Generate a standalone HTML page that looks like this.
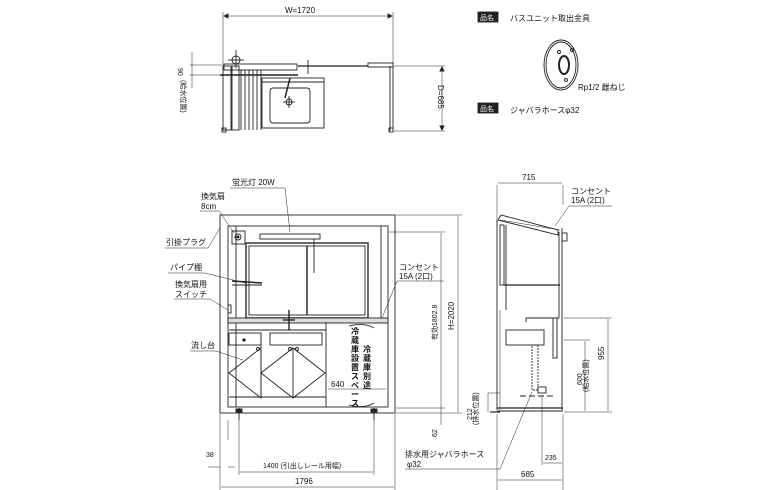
<!DOCTYPE html>
<html><head><meta charset="utf-8"><style>
html,body{margin:0;padding:0;background:#fff;}
svg{display:block;}
text{font-family:"Liberation Sans","Noto Sans CJK JP",sans-serif;fill:#111;}
.s{font-size:8px;}
.t{font-size:7px;}
</style></head><body>
<svg width="780" height="490" viewBox="0 0 780 490" xmlns="http://www.w3.org/2000/svg" stroke="#222" fill="none" stroke-width="0.9">
<!-- ===== TOP PLAN ===== -->
<line x1="223" y1="12" x2="223" y2="66" stroke-width="0.5"/>
<line x1="393" y1="12" x2="393" y2="66" stroke-width="0.5"/>
<line x1="224" y1="16" x2="392" y2="16" stroke-width="0.5"/>
<path d="M224 16l4 -2v4zM392 16l-4 -2v4z" fill="#222"/>
<text x="285" y="13" class="s" stroke="none">W=1720</text>
<rect x="223" y="66" width="8" height="64"/>
<rect x="232" y="66" width="7" height="64"/>
<line x1="245" y1="70" x2="245" y2="130"/><line x1="249" y1="70" x2="249" y2="130"/><line x1="253" y1="70" x2="253" y2="130"/><line x1="257" y1="70" x2="257" y2="130"/><line x1="261" y1="70" x2="261" y2="130"/><line x1="241" y1="70" x2="241" y2="130"/>
<rect x="224" y="64" width="73" height="6"/>
<line x1="220" y1="75" x2="298" y2="75" stroke-width="1.5"/>
<line x1="298" y1="66" x2="368" y2="66" stroke-width="1.2"/>
<rect x="368" y="63" width="25" height="4"/>
<line x1="390" y1="66" x2="390" y2="131"/><line x1="393" y1="66" x2="393" y2="131"/>
<rect x="222" y="128" width="4" height="4"/><rect x="389" y="128" width="4" height="4"/>
<rect x="262" y="78" width="62" height="50"/>
<line x1="262" y1="82" x2="324" y2="82"/>
<rect x="270" y="88" width="40" height="35" rx="3"/>
<line x1="285" y1="98" x2="290" y2="78" stroke-width="1.5"/>
<circle cx="289" cy="102" r="3"/>
<line x1="283" y1="102" x2="295" y2="102"/><line x1="289" y1="96" x2="289" y2="108"/>
<circle cx="236" cy="60" r="4"/><line x1="228" y1="60" x2="244" y2="60"/><line x1="236" y1="50" x2="236" y2="68"/>
<line x1="308" y1="60" x2="308" y2="74"/><line x1="302" y1="66" x2="314" y2="66"/>
<line x1="190" y1="65" x2="222" y2="65" stroke-width="0.5"/>
<line x1="190" y1="75" x2="222" y2="75" stroke-width="0.5"/>
<line x1="192" y1="52" x2="192" y2="88" stroke-width="0.5"/>
<text transform="translate(178,68) rotate(90)" class="t" stroke="none">90</text>
<text transform="translate(181,80) rotate(90)" class="t" stroke="none">(給水位置)</text>
<line x1="394" y1="66" x2="445" y2="66" stroke-width="0.5"/>
<line x1="394" y1="131" x2="445" y2="131" stroke-width="0.5"/>
<line x1="442" y1="67" x2="442" y2="130" stroke-width="0.5"/>
<path d="M442 67l-2 4h4zM442 130l-2 -4h4z" fill="#222"/>
<text transform="translate(438,85) rotate(90)" class="s" stroke="none">D=685</text>

<!-- legend -->
<rect x="478" y="12" width="20" height="10" fill="#222"/>
<text x="480" y="20" class="t" stroke="none" style="fill:#fff">品名</text>
<text x="510" y="21" class="s" stroke="none">バスユニット取出金具</text>
<ellipse cx="561" cy="65" rx="17" ry="25"/><ellipse cx="561" cy="65" rx="15" ry="23"/>
<ellipse cx="564" cy="65" rx="5" ry="9" stroke-width="2"/>
<circle cx="559" cy="52" r="1.5"/><circle cx="572" cy="50" r="1.5"/><circle cx="566" cy="80" r="1.5"/>
<text x="578" y="90" class="s" stroke="none">Rp1/2 雌ねじ</text>
<rect x="478" y="103" width="20" height="10" fill="#222"/>
<text x="480" y="111" class="t" stroke="none" style="fill:#fff">品名</text>
<text x="510" y="113" class="s" stroke="none">ジャバラホースφ32</text>

<!-- ===== FRONT VIEW ===== -->
<rect x="220" y="215" width="175" height="198"/>
<rect x="228" y="226" width="160" height="181"/>
<line x1="236" y1="226" x2="236" y2="407"/>
<line x1="381" y1="226" x2="381" y2="318"/>
<rect x="232" y="231" width="13" height="13"/><circle cx="238" cy="237" r="3"/><circle cx="238" cy="237" r="1" fill="#222"/>
<rect x="260" y="234" width="60" height="5"/>
<line x1="314" y1="239" x2="314" y2="273"/>
<rect x="246" y="243" width="122" height="75" stroke-width="1.6" stroke="#444"/>
<rect x="249" y="246" width="116" height="69"/>
<line x1="307" y1="246" x2="307" y2="315" stroke-width="1.4"/>
<rect x="228" y="318" width="160" height="5" fill="#ddd"/>
<line x1="289" y1="310" x2="289" y2="330" stroke-width="1.4"/><line x1="283" y1="320" x2="295" y2="320" stroke-width="1.4"/>
<line x1="229" y1="330" x2="326" y2="330"/>
<rect x="229" y="333" width="32" height="12"/><circle cx="244" cy="340" r="1.2" fill="#222"/>
<rect x="270" y="333" width="52" height="12"/>
<line x1="261" y1="333" x2="261" y2="397"/>
<line x1="326" y1="322" x2="326" y2="407"/>
<line x1="229" y1="397" x2="326" y2="397"/>
<path d="M229 373l32 -25v50zM261 373l32 -25l32 25l-32 25z"/>
<line x1="293" y1="348" x2="293" y2="398"/>
<circle cx="258" cy="349" r="1.5"/><circle cx="290" cy="349" r="1.5"/><circle cx="297" cy="349" r="1.5"/>
<path d="M349 326q15 -4 25 2M349 405q15 4 25 -2"/>
<line x1="328" y1="389" x2="386" y2="389" stroke-width="0.5"/>
<text x="331" y="387" class="s" stroke="none">640</text>
<text class="s" stroke="none" text-anchor="middle" font-weight="bold"><tspan x="355" y="334">冷</tspan><tspan x="355" dy="9">蔵</tspan><tspan x="355" dy="9">庫</tspan><tspan x="355" dy="9">設</tspan><tspan x="355" dy="9">置</tspan><tspan x="355" dy="9">ス</tspan><tspan x="355" dy="9">ペ</tspan><tspan x="355" dy="9">ー</tspan><tspan x="355" dy="9">ス</tspan></text>
<text class="s" stroke="none" text-anchor="middle" font-weight="bold"><tspan x="367" y="352">冷</tspan><tspan x="367" dy="9">蔵</tspan><tspan x="367" dy="9">庫</tspan><tspan x="367" dy="9">別</tspan><tspan x="367" dy="9">途</tspan></text>
<line x1="232" y1="281" x2="262" y2="283" stroke-width="1.5"/><line x1="232" y1="285" x2="262" y2="285"/>
<rect x="228" y="305" width="3" height="8"/>
<line x1="239" y1="408" x2="239" y2="420"/><line x1="374" y1="408" x2="374" y2="420"/>
<rect x="236" y="409" width="6" height="3" fill="#222"/><rect x="371" y="409" width="6" height="3" fill="#222"/>
<!-- labels front -->
<text x="232" y="185" class="s" stroke="none">蛍光灯 20W</text>
<line x1="230" y1="188" x2="285" y2="188" stroke-width="0.5"/><line x1="285" y1="188" x2="290" y2="232" stroke-width="0.5"/>
<text x="201" y="199" class="s" stroke="none">換気扇</text>
<text x="201" y="209" class="s" stroke="none">8cm</text>
<line x1="200" y1="211" x2="219" y2="211" stroke-width="0.5"/><line x1="219" y1="211" x2="234" y2="233" stroke-width="0.5"/>
<text x="166" y="245" class="s" stroke="none">引掛プラグ</text>
<line x1="165" y1="248" x2="208" y2="248" stroke-width="0.5"/><line x1="208" y1="248" x2="220" y2="228" stroke-width="0.5"/>
<text x="170" y="270" class="s" stroke="none">パイプ棚</text>
<line x1="168" y1="273" x2="205" y2="273" stroke-width="0.5"/><line x1="205" y1="273" x2="245" y2="283" stroke-width="0.5"/>
<text x="175" y="287" class="s" stroke="none">換気扇用</text>
<text x="175" y="297" class="s" stroke="none">スイッチ</text>
<line x1="174" y1="299" x2="210" y2="299" stroke-width="0.5"/><line x1="210" y1="299" x2="228" y2="310" stroke-width="0.5"/>
<text x="191" y="348" class="s" stroke="none">流し台</text>
<line x1="190" y1="351" x2="216" y2="351" stroke-width="0.5"/><line x1="216" y1="351" x2="243" y2="360" stroke-width="0.5"/>
<text x="399" y="270" class="s" stroke="none">コンセント</text>
<text x="399" y="279" class="s" stroke="none">15A (2口)</text>
<line x1="397" y1="281" x2="444" y2="281" stroke-width="0.5"/><line x1="397" y1="281" x2="382" y2="318" stroke-width="0.5"/>
<!-- dims front -->
<line x1="396" y1="215" x2="462" y2="215" stroke-width="0.5"/>
<line x1="389" y1="232" x2="445" y2="232" stroke-width="0.5"/>
<line x1="396" y1="408" x2="445" y2="408" stroke-width="0.5"/>
<line x1="396" y1="413" x2="462" y2="413" stroke-width="0.5"/>
<line x1="458" y1="216" x2="458" y2="412" stroke-width="0.5"/>
<line x1="441" y1="233" x2="441" y2="425" stroke-width="0.5"/>
<text transform="translate(454,330) rotate(-90)" class="s" stroke="none">H=2020</text>
<text transform="translate(437,340) rotate(-90)" class="t" stroke="none">有効1802.8</text>
<text transform="translate(437,437) rotate(-90)" class="t" stroke="none">62</text>
<text transform="translate(472,420) rotate(-90)" class="t" stroke="none">212</text>
<text transform="translate(478,425) rotate(-90)" class="t" stroke="none">(排水位置)</text>
<line x1="220" y1="414" x2="220" y2="490" stroke-width="0.5"/><line x1="228" y1="420" x2="228" y2="440" stroke-width="0.5"/>
<line x1="239" y1="420" x2="239" y2="475" stroke-width="0.5"/><line x1="374" y1="420" x2="374" y2="475" stroke-width="0.5"/>
<line x1="395" y1="414" x2="395" y2="490" stroke-width="0.5"/>
<line x1="208" y1="467" x2="220" y2="467" stroke-width="0.5"/><line x1="228" y1="467" x2="235" y2="467" stroke-width="0.5"/>
<text x="206" y="457" class="t" stroke="none">38</text>
<line x1="240" y1="472" x2="373" y2="472" stroke-width="0.5"/>
<text x="263" y="468" class="t" stroke="none">1400 (引出しレール用幅)</text>
<line x1="221" y1="487" x2="394" y2="487" stroke-width="0.5"/>
<text x="295" y="484" class="s" stroke="none">1796</text>
<text x="405" y="457" class="s" stroke="none">排水用ジャバラホース</text>
<text x="407" y="467" class="s" stroke="none">φ32</text>
<line x1="405" y1="469" x2="500" y2="469" stroke-width="0.5"/><line x1="500" y1="469" x2="532" y2="392" stroke-width="0.5"/>

<!-- ===== SIDE VIEW ===== -->
<line x1="497" y1="185" x2="497" y2="220" stroke-width="0.5"/><line x1="563" y1="185" x2="563" y2="205" stroke-width="0.5"/>
<line x1="498" y1="183" x2="562" y2="183" stroke-width="0.5"/>
<text x="522" y="180" class="s" stroke="none">715</text>
<text x="571" y="194" class="s" stroke="none">コンセント</text>
<text x="571" y="203" class="s" stroke="none">15A (2口)</text>
<line x1="569" y1="206" x2="612" y2="206" stroke-width="0.5"/><line x1="569" y1="206" x2="555" y2="226" stroke-width="0.5"/>
<path d="M498 220l3 -5l57 15v5z"/>
<line x1="500" y1="220" x2="560" y2="230" stroke-width="0.5"/>
<rect x="500" y="225" width="4" height="60"/>
<line x1="506" y1="225" x2="506" y2="310"/>
<line x1="559" y1="232" x2="559" y2="318"/><line x1="562" y1="228" x2="562" y2="410"/>
<rect x="562" y="233" width="5" height="8"/>
<line x1="504" y1="285" x2="560" y2="285" stroke-width="1.2"/>
<line x1="497" y1="220" x2="497" y2="410"/>
<line x1="500" y1="310" x2="500" y2="410" stroke-width="0.5"/>
<rect x="506" y="330" width="38" height="15"/>
<path d="M526 318h33M526 318v4"/>
<rect x="553" y="318" width="4" height="40"/>
<rect x="532" y="345" width="6" height="45" stroke-dasharray="2 1"/>
<rect x="538" y="387" width="8" height="6"/>
<line x1="497" y1="408" x2="563" y2="408" stroke-width="1.2"/><line x1="497" y1="411" x2="563" y2="411"/>
<line x1="490" y1="412" x2="500" y2="412" stroke-width="1.2"/>
<line x1="520" y1="396" x2="555" y2="396" stroke-dasharray="6 3"/>
<line x1="564" y1="318" x2="612" y2="318" stroke-width="0.5"/>
<line x1="564" y1="340" x2="590" y2="340" stroke-width="0.5"/>
<line x1="564" y1="412" x2="612" y2="412" stroke-width="0.5"/>
<line x1="608" y1="319" x2="608" y2="411" stroke-width="0.5"/>
<line x1="585" y1="341" x2="585" y2="411" stroke-width="0.5"/>
<text transform="translate(604,360) rotate(-90)" class="s" stroke="none">955</text>
<text transform="translate(582,385) rotate(-90)" class="t" stroke="none">600</text>
<text transform="translate(588,392) rotate(-90)" class="t" stroke="none">(給水位置)</text>
<line x1="488" y1="393" x2="500" y2="393" stroke-width="0.5"/>
<line x1="488" y1="412" x2="488" y2="393" stroke-width="0.5"/>
<line x1="497" y1="414" x2="497" y2="490" stroke-width="0.5"/>
<line x1="542" y1="395" x2="542" y2="465" stroke-width="0.5"/><line x1="563" y1="414" x2="563" y2="490" stroke-width="0.5"/>
<line x1="543" y1="463" x2="562" y2="463" stroke-width="0.5"/>
<text x="545" y="460" class="t" stroke="none">235</text>
<line x1="498" y1="480" x2="562" y2="480" stroke-width="0.5"/>
<text x="521" y="477" class="s" stroke="none">685</text>
</svg>
</body></html>
